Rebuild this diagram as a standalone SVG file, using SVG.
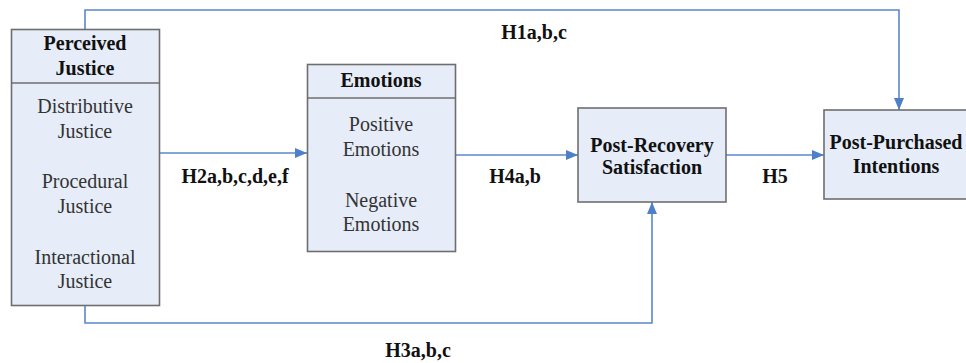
<svg xmlns="http://www.w3.org/2000/svg" width="966" height="363" viewBox="0 0 966 363">
<style>
.box{fill:#e6edf8;stroke:#6e6e6e;stroke-width:1.6}
.div{stroke:#6e6e6e;stroke-width:1.6}
.t{font-family:'Liberation Serif','Times New Roman',Times,'DejaVu Serif',serif;font-size:20px;text-anchor:middle}
.b{font-weight:bold;fill:#111}
.r{fill:#333}
.c{fill:none;stroke:#5a88cb;stroke-width:1.6}
</style>
<defs>
<marker id="ah" markerUnits="userSpaceOnUse" markerWidth="12" markerHeight="12" viewBox="0 0 12 12" refX="12" refY="6" orient="auto">
<path d="M0,1 L12,6 L0,11 Z" fill="#4f7fc6"/>
</marker>
</defs>
<rect width="966" height="363" fill="#fff"/>
<g id="connectors">
<path class="c" d="M85 29 V10 H899 V110" marker-end="url(#ah)"/>
<path class="c" d="M159 153 H307" marker-end="url(#ah)"/>
<path class="c" d="M455 155 H578" marker-end="url(#ah)"/>
<path class="c" d="M726 155 H824" marker-end="url(#ah)"/>
<path class="c" d="M85 305 V323 H652 V202" marker-end="url(#ah)"/>
<text class="t b" x="534" y="39">H1a,b,c</text>
<text class="t b" x="235" y="183">H2a,b,c,d,e,f</text>
<text class="t b" x="515" y="183">H4a,b</text>
<text class="t b" x="775" y="183">H5</text>
<text class="t b" x="418" y="357">H3a,b,c</text>
</g>
<g id="perceived-justice">
<rect class="box" x="11.5" y="29.5" width="148" height="276"/>
<line class="div" x1="11.5" y1="83" x2="159.5" y2="83"/>
<text class="t b" x="85" y="50">Perceived</text>
<text class="t b" x="85" y="75">Justice</text>
<text class="t r" x="85" y="113">Distributive</text>
<text class="t r" x="85" y="138">Justice</text>
<text class="t r" x="85" y="188">Procedural</text>
<text class="t r" x="85" y="213">Justice</text>
<text class="t r" x="85" y="264">Interactional</text>
<text class="t r" x="85" y="288">Justice</text>
</g>
<g id="emotions">
<rect class="box" x="307.5" y="64.5" width="148" height="187"/>
<line class="div" x1="307.5" y1="98" x2="455.5" y2="98"/>
<text class="t b" x="381" y="87">Emotions</text>
<text class="t r" x="381" y="131">Positive</text>
<text class="t r" x="381" y="156">Emotions</text>
<text class="t r" x="381" y="207">Negative</text>
<text class="t r" x="381" y="231">Emotions</text>
</g>
<g id="post-recovery">
<rect class="box" x="578" y="108" width="148" height="94"/>
<text class="t b" x="652" y="152">Post-Recovery</text>
<text class="t b" x="652" y="174">Satisfaction</text>
</g>
<g id="post-purchased">
<rect class="box" x="824" y="110" width="160" height="89"/>
<text class="t b" x="896" y="149">Post-Purchased</text>
<text class="t b" x="896" y="173">Intentions</text>
</g>
</svg>
